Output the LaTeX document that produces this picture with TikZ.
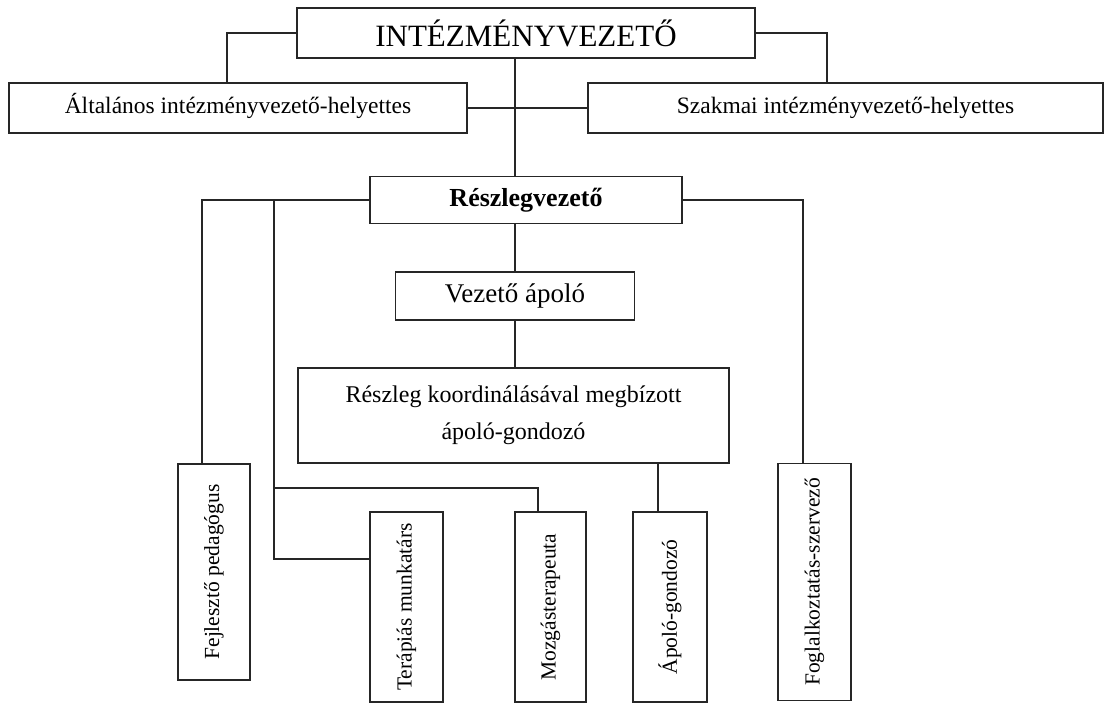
\documentclass[tikz,border=0pt]{standalone}
\usepackage{fontspec}
\usepackage{graphicx}
\setmainfont{Liberation Serif}
\usetikzlibrary{positioning}

\begin{document}
\begin{tikzpicture}[
			x=1pt, y=-1pt,
			box/.style={draw=black!85, line width=1.3pt, inner sep=0pt, align=center, font=\fontsize{23.5}{28}\selectfont},
			sidebox/.style={box, text height=17pt, text depth=5pt},
			vbox/.style={box, font=\fontsize{21.5}{25}\selectfont},
			link/.style={draw=black!85, line width=1.3pt}
		]
			\useasboundingbox (0,0) rectangle (1110,703);
			% upper levels
			\node[box, minimum width=458, minimum height=50, font=\fontsize{31}{33}\selectfont] (boss) at (526,33) {INTÉZMÉNYVEZETŐ};
			\node[sidebox, minimum width=458, minimum height=50] (alt) at (238,108) {Általános intézményvezető-helyettes};
			\node[sidebox, minimum width=515, minimum height=50] (szak) at (845.5,108) {Szakmai intézményvezető-helyettes};
			\node[box, minimum width=312, minimum height=47, font=\fontsize{26}{28}\selectfont\bfseries] (reszleg) at (526,200) {Részlegvezető};
			\node[box, minimum width=239, minimum height=48, font=\fontsize{27}{29}\selectfont] (vezap) at (515,296) {Vezető ápoló};
			\node[box, minimum width=431, minimum height=95, font=\fontsize{24}{37}\selectfont] (koord) at (513.5,415.5) {Részleg koordinálásával megbízott\\ ápoló-gondozó};
			% lower level, vertical text
			\node[vbox, minimum width=72, minimum height=216] (fejl) at (214,572) {\rotatebox{90}{Fejlesztő pedagógus}};
			\node[vbox, minimum width=73, minimum height=190] (terap) at (406.5,607) {\rotatebox{90}{Terápiás munkatárs}};
			\node[vbox, minimum width=71, minimum height=190] (mozg) at (550.5,607) {\rotatebox{90}{Mozgásterapeuta}};
			\node[vbox, minimum width=74, minimum height=190] (apolo) at (670,607) {\rotatebox{90}{Ápoló-gondozó}};
			\node[vbox, minimum width=73, minimum height=237] (fogl) at (814.5,582) {\rotatebox{90}{Foglalkoztatás-szervező}};
			\coordinate (tr) at (274,200);
			\coordinate (trm) at (274,488);
			% connectors
			\draw[link] (boss.west) -| ([xshift=-11pt]alt.north);
			\draw[link] (boss.east) -| ([xshift=-18.5pt]szak.north);
			\draw[link] (alt.east) -- (szak.west);
			\draw[link] ([xshift=-11pt]boss.south) -- ([xshift=-11pt]reszleg.north);
			\draw[link] (reszleg.south -| vezap.north) -- (vezap.north);
			\draw[link] (vezap.south) -- (vezap.south |- koord.north);
			\draw[link] ([xshift=-12pt]apolo.north) -- ([xshift=-12pt]apolo.north |- koord.south);
			\draw[link] (reszleg.west) -| ([xshift=-12pt]fejl.north);
			\draw[link] (tr) |- ([yshift=48pt]terap.west);
			\draw[link] (trm) -| ([xshift=-12.5pt]mozg.north);
			\draw[link] (reszleg.east) -| ([xshift=-11.5pt]fogl.north);
		\end{tikzpicture}
\end{document}
